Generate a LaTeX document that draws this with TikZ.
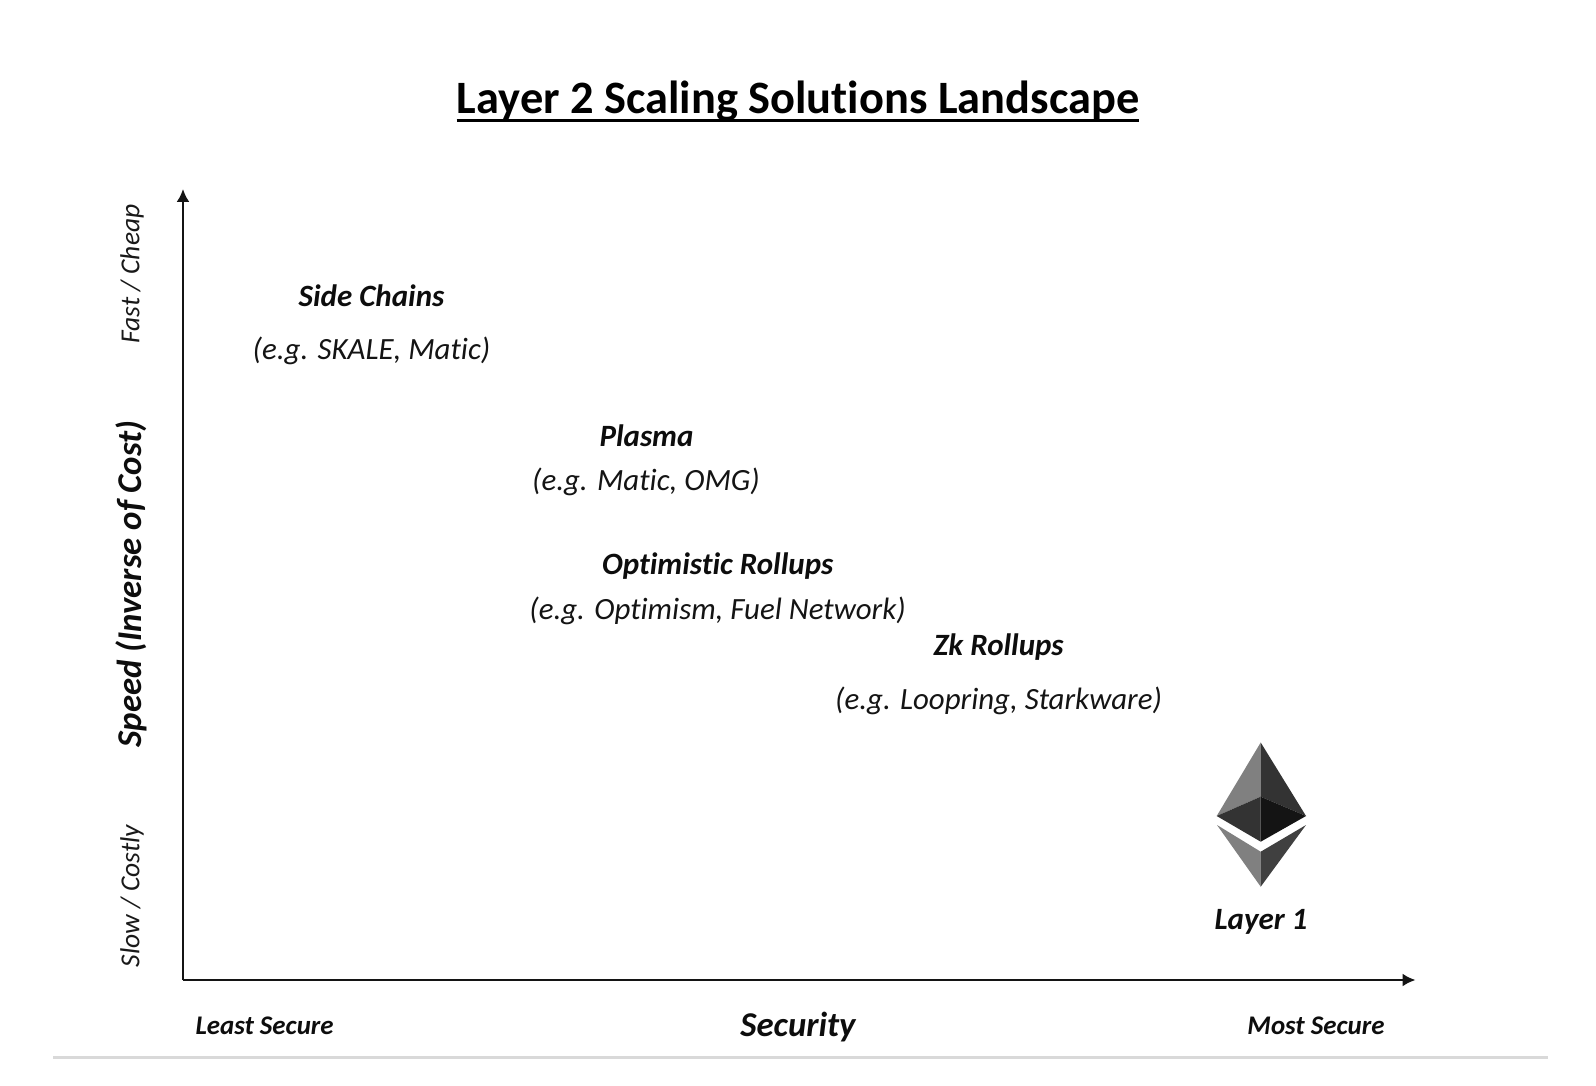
\documentclass[tikz,border=0pt]{standalone}
\usepackage{fontspec}
\setmainfont[RawFeature={-liga;-clig}]{Carlito}
\usetikzlibrary{arrows.meta}
\tikzset{
  lbl/.style={inner sep=0pt,text=black!92,font=\itshape\fontsize{30.9}{34}\selectfont},
  head/.style={inner sep=0pt,text=black!95,font=\bfseries\itshape\fontsize{31}{34}\selectfont},
  small/.style={inner sep=0pt,text=black!90,font=\itshape\fontsize{27.5}{30}\selectfont},
  smallb/.style={inner sep=0pt,text=black!95,font=\bfseries\itshape\fontsize{26.9}{30}\selectfont},
  big/.style={inner sep=0pt,text=black!95,font=\bfseries\itshape\fontsize{34.8}{38}\selectfont},
  axis/.style={draw=black!92,line width=2.2pt,-{Latex[length=13pt,width=13pt]}},
}
\begin{document}
\begin{tikzpicture}[x=1pt,y=-1pt]
\useasboundingbox (0,0) rectangle (1596,1086);
\fill[white] (0,0) rectangle (1596,1086);
\node[inner sep=0pt,font=\bfseries\fontsize{46.4}{50}\selectfont] (title) at (798,101) {Layer 2 Scaling Solutions Landscape};
\coordinate (ulL) at (title.west|-0,120.5);
\coordinate (ulR) at (title.east|-0,120.5);
\draw[line width=2.5pt] (ulL) -- (ulR);
\coordinate (o) at (183,980);
\coordinate (ytip) at (183,189);
\coordinate (xtip) at (1415.5,980);
\draw[axis] (o) -- (ytip);
\draw[axis] (o) -- (xtip);
\coordinate (ruleL) at (53,1057);
\coordinate (ruleR) at (1548,1057);
\draw[draw=black!15,line width=3pt] (ruleL) -- (ruleR);
\node[head] (sc) at (371.5,296) {Side Chains};
\node[lbl] (sce) at (371.5,350.5) {(e.g. SKALE, Matic)};
\node[head] (pl) at (646.5,436) {Plasma};
\node[lbl] (ple) at (646,481.5) {(e.g. Matic, OMG)};
\node[head] (op) at (717.6,566.5) {Optimistic Rollups};
\node[lbl] (ope) at (717.6,611) {(e.g. Optimism, Fuel Network)};
\node[head] (zk) at (998.6,647.5) {Zk Rollups};
\node[lbl] (zke) at (998.6,700.5) {(e.g. Loopring, Starkware)};
\node[head] (l1) at (1261,922) {Layer 1};
\node[big] (sec) at (798,1027) {Security};
\node[smallb] (ls) at (264.6,1026) {Least Secure};
\node[smallb] (ms) at (1316,1026) {Most Secure};
\node[big,rotate=90] (sp) at (131,584) {Speed (Inverse of Cost)};
\node[small,rotate=90] (fc) at (132,274) {Fast / Cheap};
\node[small,rotate=90] (sl) at (132,896) {Slow / Costly};
% Ethereum logo
\fill[black!50] (1260.7,742.5) -- (1260.7,796.7) -- (1216.7,816) -- cycle;
\fill[black!80] (1260.7,742.5) -- (1260.7,796.7) -- (1306,816) -- cycle;
\fill[black!80] (1216.7,816) -- (1260.7,796.7) -- (1260.7,841.7) -- cycle;
\fill[black!92] (1306,816) -- (1260.7,796.7) -- (1260.7,841.7) -- cycle;
\fill[black!50] (1217,825) -- (1260.7,851.7) -- (1260.7,886.7) -- cycle;
\fill[black!75] (1306,825) -- (1260.7,851.7) -- (1260.7,886.7) -- cycle;
\end{tikzpicture}
\end{document}
